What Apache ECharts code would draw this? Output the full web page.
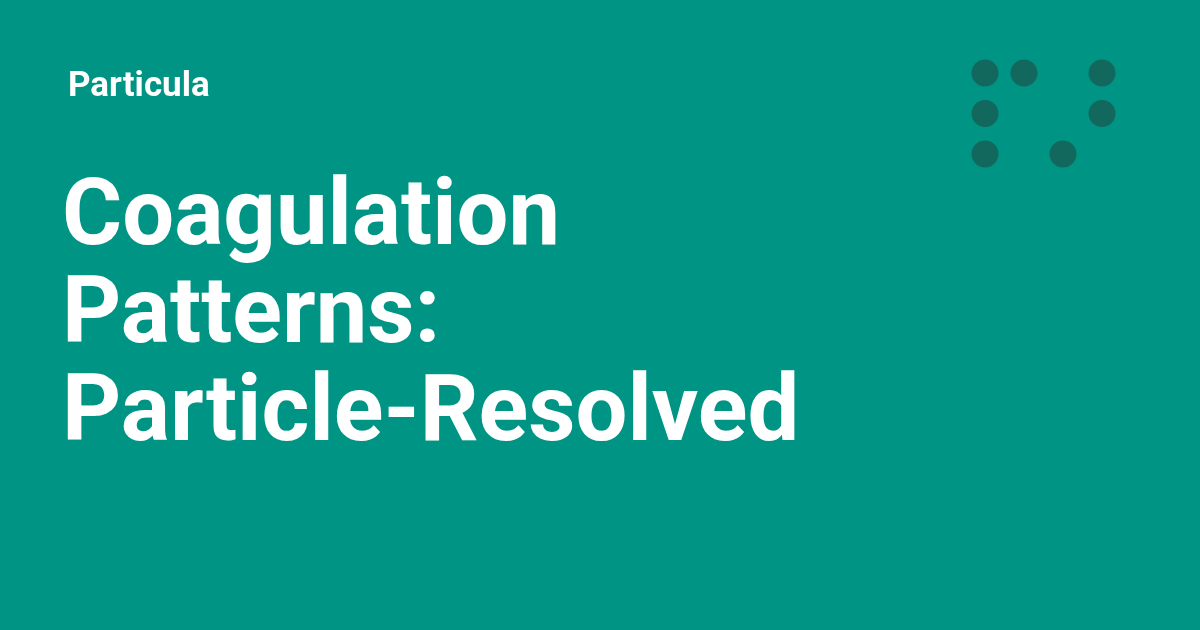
<!DOCTYPE html>
<html>
<head>
<meta charset="utf-8">
<script src="https://cdn.jsdelivr.net/npm/echarts@6/dist/echarts.min.js"></script>
<style>
  html, body { margin: 0; padding: 0; background: #009484; }
  #chart { width: 1200px; height: 630px; }
</style>
</head>
<body>
<div id="chart"></div>
<script>
// Kartička: značka, nadpis na třech řádcích a mřížka teček vpravo nahoře.
const brand = 'Particula';
const titleLines = ['Coagulation', 'Patterns:', 'Particle-Resolved'];

// Tečky v mřížce 4 × 3 (sloupec, řádek)
const dotCols = [0, 1, 3, 0, 3, 0, 2];
const dotRows = [0, 0, 0, 1, 1, 2, 2];

const chart = echarts.init(document.getElementById('chart'));

const textStyleBase = { fill: '#ffffff', fontFamily: 'Roboto, sans-serif', fontWeight: 'bold' };

const graphic = [
  {
    type: 'text', left: 68, top: 70,
    style: Object.assign({ text: brand, fontSize: 35 }, textStyleBase),
  },
];
titleLines.forEach((line, i) => {
  graphic.push({
    type: 'text', left: 62, top: 175 + i * 98,
    style: Object.assign({ text: line, fontSize: 92 }, textStyleBase),
  });
});

chart.setOption({
  backgroundColor: '#009484',
  animation: false,
  grid: { left: 985, top: 73, width: 117, height: 81 },
  xAxis: { type: 'value', min: 0, max: 3, show: false },
  yAxis: { type: 'value', min: 0, max: 2, inverse: true, show: false },
  series: [{
    type: 'scatter',
    symbolSize: 27,
    itemStyle: { color: '#185c55' },
    data: dotCols.map((c, i) => [c, dotRows[i]]),
  }],
  graphic,
});
</script>
</body>
</html>
